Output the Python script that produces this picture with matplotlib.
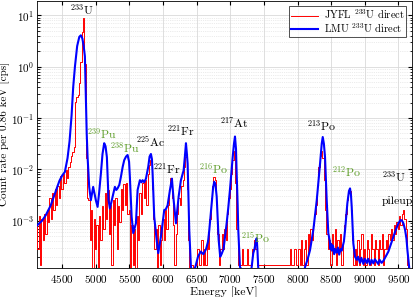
import numpy as np
import matplotlib
matplotlib.use("Agg")
import matplotlib.pyplot as plt

plt.rcParams['font.family'] = 'serif'
plt.rcParams['font.serif'] = ['cmr10', 'DejaVu Serif']
plt.rcParams['mathtext.fontset'] = 'cm'
plt.rcParams['axes.formatter.use_mathtext'] = True

# ---------------- data ----------------
# JYFL spectrum: counts per 20 keV display bin (1 count = count_rate cps)
count_rate = 1.38e-4
jyfl_start = 4120
jyfl_width = 20
jyfl_counts = [
    6, 2, 9, 1, 8, 3, 10, 4, 12, 7,                 # 4120
    20, 8, 25, 12, 30, 15, 35, 20, 55, 30,          # 4320
    60, 40, 70, 50, 80, 100, 130, 160, 200, 1500,   # 4520
    1900, 2000, 3500, 9000, 35000, 64500, 8000, 120, 20, 18,  # 4720
    3, 12, 0, 8, 2, 6, 0, 9, 3, 14,                 # 4920
    5, 25, 8, 29, 4, 15, 1, 18, 6, 20,              # 5120
    2, 14, 7, 30, 12, 38, 15, 40, 10, 12,           # 5320
    0, 6, 1, 5, 0, 9, 3, 25, 10, 40,                # 5520
    20, 45, 15, 60, 90, 110, 30, 8, 2, 5,           # 5720
    0, 6, 1, 3, 8, 3, 12, 5, 15, 30,                # 5920
    50, 20, 6, 1, 4, 10, 20, 15, 35, 45,            # 6120
    80, 125, 30, 3, 0, 1, 1, 0, 1, 1,               # 6320
    2, 1, 1, 3, 1, 2, 1, 3, 2, 8,                   # 6520
    20, 35, 52, 45, 15, 4, 1, 2, 4, 2,              # 6720
    5, 3, 10, 20, 30, 60, 110, 165, 40, 5,          # 6920
    1, 1, 1, 2, 1, 1, 1, 2, 1, 1,                   # 7120
    1, 2, 3, 2, 1, 1, 1, 1, 1, 1,                   # 7320
    1, 1, 1, 1, 1, 1, 1, 1, 1, 1,                   # 7520
    1, 1, 1, 1, 1, 1, 1, 1, 1, 2,                   # 7720
    1, 1, 2, 1, 1, 2, 1, 3, 1, 2,                   # 7920
    3, 1, 4, 2, 5, 3, 6, 10, 15, 35,                # 8120
    80, 130, 165, 120, 45, 12, 4, 2, 3, 1,          # 8320
    4, 2, 5, 1, 3, 2, 4, 1, 3, 6,                   # 8520
    10, 18, 25, 28, 12, 3, 1, 2, 1, 3,              # 8720
    1, 2, 4, 1, 2, 1, 3, 2, 1, 4,                   # 8920
    2, 1, 3, 2, 1, 3, 2, 4, 1, 2,                   # 9120
    3, 2, 4, 3, 5, 3, 6, 4, 7, 5,                   # 9320
    9, 6, 10, 12, 8, 5, 1, 0, 0,                    # 9520
]

# LMU spectrum: energy [keV] and log10(count rate [cps])
lmu_energy = [4119, 4200, 4257, 4330, 4406, 4460, 4500, 4540, 4580, 4610,
              4640, 4664, 4690, 4723, 4755, 4778, 4800, 4820, 4838, 4853,
              4865, 4878, 4902, 4927, 4961, 5001, 5027, 5050, 5076, 5100,
              5125, 5145, 5165, 5190, 5210, 5250, 5284, 5305, 5324, 5350,
              5373, 5400, 5423, 5450, 5473, 5495, 5507, 5533, 5557, 5597,
              5622, 5656, 5680, 5696, 5720, 5746, 5780, 5800, 5820, 5835,
              5845, 5869, 5905, 5929, 5969, 6018, 6040, 6068, 6103, 6132,
              6158, 6192, 6232, 6266, 6306, 6325, 6341, 6355, 6366, 6390,
              6415, 6440, 6480, 6520, 6560, 6600, 6640, 6670, 6688, 6710,
              6728, 6745, 6762, 6780, 6798, 6812, 6827, 6850, 6870, 6900,
              6946, 6970, 6995, 7020, 7036, 7055, 7070, 7085, 7095, 7110,
              7119, 7144, 7300, 7318, 7342, 7360, 7380, 7393, 7405, 7417,
              7440, 8080, 8112, 8150, 8186, 8235, 8286, 8335, 8360, 8375,
              8392, 8409, 8434, 8458, 8480, 8490, 8500, 8509, 8520, 8530,
              8545, 8560, 8583, 8600, 8620, 8640, 8658, 8690, 8707, 8741,
              8765, 8781, 8795, 8806, 8830, 8855, 8881, 8900, 8930, 8950,
              8979, 9000, 9030, 9050, 9080, 9100, 9128, 9150, 9200, 9220,
              9250, 9277, 9310, 9351, 9390, 9426, 9460, 9500, 9530, 9550,
              9575, 9600, 9620, 9634, 9660, 9680]
lmu_log10 = [-3.10, -3.00, -2.89, -2.70, -2.42, -2.22, -2.12, -2.05, -1.78, -1.45,
             -0.95, -0.40, 0.00, 0.40, 0.58, 0.61, 0.55, 0.40, 0.20, -0.60,
             -1.30, -1.76, -2.34, -2.60, -2.34, -2.60, -2.73, -2.45, -2.08, -1.70,
             -1.49, -1.55, -1.76, -2.60, -2.76, -2.53, -2.34, -2.40, -2.37, -2.30,
             -2.15, -1.95, -1.82, -1.75, -1.72, -1.85, -2.15, -2.92, -3.24, -3.05,
             -2.40, -2.21, -2.25, -2.21, -2.25, -2.18, -1.95, -1.75, -1.70, -1.80,
             -2.08, -2.92, -3.37, -3.63, -3.31, -2.79, -2.78, -2.70, -2.40, -2.18,
             -2.60, -3.05, -2.53, -2.21, -2.02, -1.75, -1.49, -1.70, -1.89, -3.18,
             -3.90, -4.00, -3.90, -3.70, -3.60, -3.65, -3.55, -3.40, -3.18, -2.85,
             -2.60, -2.35, -2.24, -2.30, -2.53, -2.95, -3.37, -3.70, -3.65, -3.55,
             -3.05, -2.75, -2.40, -2.00, -1.76, -1.50, -1.36, -1.60, -2.08, -2.70,
             -3.18, -3.90, -4.20, -3.90, -3.63, -3.55, -3.40, -3.34, -3.60, -3.95,
             -4.30, -4.20, -3.90, -3.75, -3.57, -3.18, -2.60, -1.89, -1.50, -1.37,
             -1.50, -1.76, -2.60, -3.24, -3.40, -3.55, -3.45, -3.58, -3.48, -3.50,
             -3.65, -3.55, -3.62, -3.52, -3.66, -3.55, -3.58, -3.40, -3.18, -2.66,
             -2.42, -2.37, -2.50, -2.73, -3.44, -3.70, -3.76, -3.70, -3.82, -3.72,
             -3.84, -3.74, -3.82, -3.74, -3.85, -3.76, -3.83, -3.75, -3.84, -3.76,
             -3.82, -3.78, -3.70, -3.60, -3.45, -3.31, -3.18, -3.05, -2.99, -2.99,
             -3.05, -3.18, -3.35, -3.57, -3.90, -4.30]

# peak labels
label_text = [r'$^{233}$U', r'$^{239}$Pu', r'$^{238}$Pu', r'$^{225}$Ac',
              r'$^{221}$Fr', r'$^{221}$Fr', r'$^{216}$Po', r'$^{217}$At',
              r'$^{215}$Po', r'$^{213}$Po', r'$^{212}$Po']
label_energy = [4793, 5092, 5440, 5815, 6058, 6266, 6757, 7055, 7383, 8364, 8736]
label_rate = [12.9, 0.050, 0.027, 0.034, 0.0104, 0.057, 0.0104, 0.083, 4.6e-4, 0.072, 0.009]
label_green = [False, True, True, False, False, False, True, False, True, False, True]
pileup_lines = [r'$^{233}$U', 'pileup']
pileup_energy = 9258
pileup_rate = [7.1e-3, 2.4e-3]

# ---------------- plot ----------------
fig = plt.figure(figsize=(4.16, 2.97), dpi=100)
ax = fig.add_axes([0.088, 0.098, 0.902, 0.900])

jyfl_e = jyfl_start + jyfl_width * np.arange(len(jyfl_counts))
jyfl_rate = np.array(jyfl_counts, dtype=float) * count_rate
ax.plot(jyfl_e, jyfl_rate, drawstyle='steps-mid', color='red', lw=0.7,
        label=r'JYFL $^{233}$U direct', zorder=3)
ax.plot(lmu_energy, 10.0 ** np.array(lmu_log10), color='blue', lw=1.5,
        label=r'LMU $^{233}$U direct', zorder=4)

ax.set_yscale('log', nonpositive='clip')
ax.set_xlim(4120, 9700)
ax.set_ylim(1.21e-4, 19.3)
ax.set_xticks([4500, 5000, 5500, 6000, 6500, 7000, 7500, 8000, 8500, 9000, 9500])
ax.tick_params(which='both', direction='in', top=True, right=True, labelsize=8)
ax.tick_params(axis='y', which='major', pad=2)
ax.tick_params(which='major', length=3)
ax.tick_params(which='minor', length=1.8)
ax.grid(which='major', color='#d9d9d9', lw=0.6)
ax.grid(which='minor', axis='y', color='#d9d9d9', lw=0.5, ls=':')
ax.set_axisbelow(True)
for s in ax.spines.values():
    s.set_linewidth(0.6)

ax.set_xlabel('Energy [keV]', fontsize=8.5, labelpad=1)
ax.set_ylabel('Count rate per 0.86 keV [cps]', fontsize=8)
ax.yaxis.set_label_coords(-0.071, 0.5)

green = '#5f9e2a'
for t, e, r, g in zip(label_text, label_energy, label_rate, label_green):
    ax.text(e, r, t, color=green if g else 'black', fontsize=8.5,
            ha='center', va='center', zorder=6, clip_on=False)
for t, r in zip(pileup_lines, pileup_rate):
    ax.text(pileup_energy, r, t, color='black', fontsize=8.5,
            ha='left', va='center', zorder=6, clip_on=False)

leg = ax.legend(loc='upper right', fontsize=7.5, frameon=True, fancybox=False,
                edgecolor='black', borderpad=0.15, handlelength=2.6,
                handletextpad=0.6, labelspacing=0.0, borderaxespad=0.55)
leg.get_frame().set_linewidth(0.6)

fig.savefig('out.png', dpi=100)
